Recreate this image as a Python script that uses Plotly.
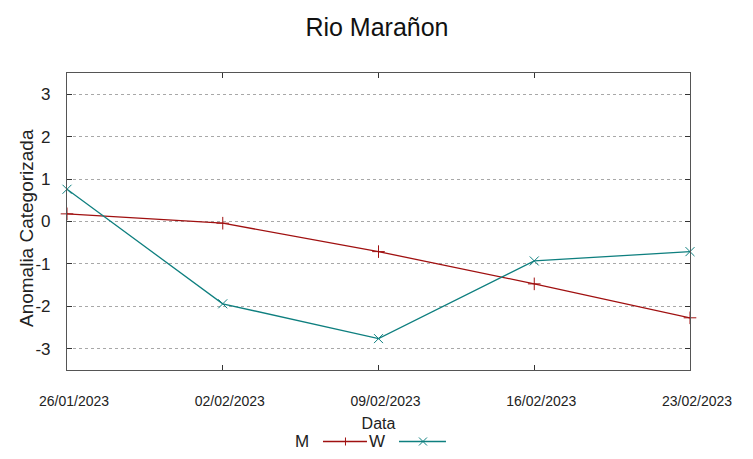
import plotly.graph_objects as go

dates = ["2023-01-26", "2023-02-02", "2023-02-09", "2023-02-16", "2023-02-23"]
tick_labels = ["26/01/2023", "02/02/2023", "09/02/2023", "16/02/2023", "23/02/2023"]
m_values = [0.18, -0.04, -0.71, -1.47, -2.27]
w_values = [0.76, -1.94, -2.76, -0.93, -0.71]
y_ticks = [-3, -2, -1, 0, 1, 2, 3]
y_tick_labels = ["-3", "-2", "-1", "0", "1", "2", "3"]

M_COLOR = "#a01010"
W_COLOR = "#0e7f7f"
FONT = "Liberation Sans"

fig = go.Figure()
fig.add_trace(go.Scatter(x=dates, y=m_values, mode="lines+markers", name="M",
                         line=dict(color=M_COLOR, width=1.3),
                         marker=dict(symbol="cross-thin", size=9,
                                     line=dict(color=M_COLOR, width=1)),
                         showlegend=False, cliponaxis=False))
fig.add_trace(go.Scatter(x=dates, y=w_values, mode="lines+markers", name="W",
                         line=dict(color=W_COLOR, width=1.3),
                         marker=dict(symbol="x-thin", size=9,
                                     line=dict(color=W_COLOR, width=1)),
                         showlegend=False, cliponaxis=False))

# gnuplot-style key below the plot: label text, then a line sample with its point
LY = -0.2407
key = [("M", M_COLOR, "plus", 0.3772, 0.4109, 0.4815, 0.447),
       ("W", W_COLOR, "cross", 0.4976, 0.5329, 0.6083, 0.5714)]
for name, color, kind, xt, x0, x1, xm in key:
    fig.add_annotation(x=xt, y=LY, xref="paper", yref="paper", text=name,
                       showarrow=False, xanchor="center", yanchor="middle",
                       font=dict(family=FONT, size=17, color="#222"))
    fig.add_shape(type="line", xref="paper", yref="paper",
                  x0=x0, x1=x1, y0=LY, y1=LY, line=dict(color=color, width=1.3))
    if kind == "plus":
        segs = [(0, 0, -4, 4)]
    else:
        segs = [(-4, 4, -4, 4), (-4, 4, 4, -4)]
    for a0, a1, b0, b1 in segs:
        fig.add_shape(type="line", xref="paper", yref="paper",
                      xsizemode="pixel", ysizemode="pixel", xanchor=xm, yanchor=LY,
                      x0=a0, x1=a1, y0=b0, y1=b1, line=dict(color=color, width=1))

# y-axis title placed like gnuplot's
fig.add_annotation(x=-0.0658, y=0.478, xref="paper", yref="paper",
                   text="Anomalia Categorizada", showarrow=False, textangle=-90,
                   xanchor="center", yanchor="middle",
                   font=dict(family=FONT, size=19, color="#222"))

fig.update_layout(
    width=753, height=459,
    margin=dict(l=59, r=71, t=65, b=97),
    paper_bgcolor="white", plot_bgcolor="white",
    title=dict(text="Rio Marañon", x=0.49, xanchor="center", y=0.957, yanchor="middle",
               font=dict(family=FONT, size=25, color="#111")),
    font=dict(family=FONT, color="#222"),
    xaxis=dict(type="date", range=[dates[0], dates[-1]],
               tickvals=dates, ticktext=tick_labels,
               tickfont=dict(size=14), ticks="inside", ticklen=5, tickcolor="#333",
               ticklabelstandoff=18, ticklabelshift=7,
               showline=True, linecolor="#555", linewidth=1.2, mirror="ticks",
               showgrid=False, zeroline=False,
               title=dict(text="Data", font=dict(size=16), standoff=9)),
    yaxis=dict(range=[-3.5, 3.5], tickvals=y_ticks, ticktext=y_tick_labels,
               tickfont=dict(size=17), ticks="inside", ticklen=5, tickcolor="#333",
               showline=True, linecolor="#555", linewidth=1.2, mirror="ticks",
               showgrid=True, gridcolor="#a8a8a8", griddash="dot", gridwidth=1,
               zeroline=False, ticklabelstandoff=12),
)

fig.write_html("out.html")
